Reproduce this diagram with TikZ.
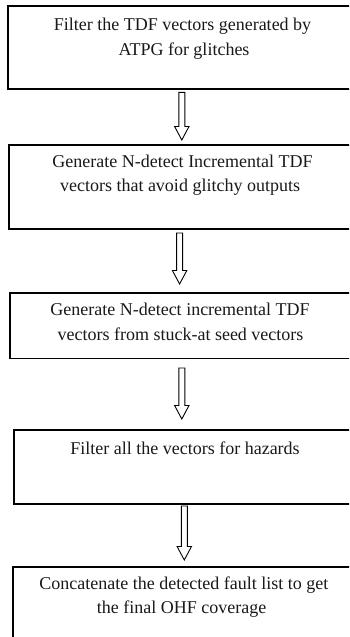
\documentclass[tikz,border=0pt]{standalone}
\usepackage{fontspec}
\setmainfont{Liberation Serif}
\usetikzlibrary{calc}

\tikzset{
  stepbox/.style={draw=black, line width=1.5pt, rectangle, inner sep=0pt, anchor=north west},
  lbl/.style={anchor=base, inner sep=0pt, font=\fontsize{18}{22}\selectfont, text=black!90},
  arrowline/.style={draw=black, line width=0.9pt, line join=miter, fill=white},
}

% hollow block arrow pointing down: #1 = top of the shaft, #2 = tip
\newcommand\hollowdown[2]{%
  \draw[arrowline]
    ($(#1)+(-3,0)$) -- ($(#2)+(-3,-13.5)$) -- ($(#2)+(-7.2,-13.5)$) -- (#2)
    -- ($(#2)+(7.2,-13.5)$) -- ($(#2)+(3,-13.5)$) -- ($(#1)+(3,0)$) -- cycle;}

\begin{document}
\begin{tikzpicture}[x=1pt, y=-1pt]
  \useasboundingbox (0,0) rectangle (349,637);
  \clip (0,0) rectangle (349,637);

  % process steps
  \node[stepbox, minimum width=350pt, minimum height=83pt] (b1) at (7,5) {};
  \node[lbl] (t1a) at (182.5,30) {Filter the TDF vectors generated by};
  \node[lbl] (t1b) at (184,55.7) {ATPG for glitches};

  \node[stepbox, minimum width=349pt, minimum height=84pt] (b2) at (8,144) {};
  \node[lbl] (t2a) at (182.5,167) {Generate N-detect Incremental TDF};
  \node[lbl] (t2b) at (180,191.5) {vectors that avoid glitchy outputs};

  \node[stepbox, minimum width=348pt, minimum height=65.5pt] (b3) at (9.3,292.3) {};
  \node[lbl] (t3a) at (180,315.7) {Generate N-detect incremental TDF};
  \node[lbl] (t3b) at (180.5,340) {vectors from stuck-at seed vectors};

  \node[stepbox, minimum width=344pt, minimum height=74.3pt] (b4) at (13.3,429) {};
  \node[lbl] (t4a) at (185,454) {Filter all the vectors for hazards};

  \node[stepbox, minimum width=345pt, minimum height=100pt] (b5) at (12,566) {};
  \node[lbl] (t5a) at (183.8,589) {Concatenate the detected fault list to get};
  \node[lbl] (t5b) at (181.7,613.3) {the final OHF coverage};

  % arrows between the steps
  \coordinate (a1s) at (181.8,92.3);  \coordinate (a1e) at (181.8,140);
  \coordinate (a2s) at (179.6,233);   \coordinate (a2e) at (179.6,284);
  \coordinate (a3s) at (181.8,368);   \coordinate (a3e) at (181.8,419);
  \coordinate (a4s) at (184.3,506);   \coordinate (a4e) at (184.3,560);
  \hollowdown{a1s}{a1e}
  \hollowdown{a2s}{a2e}
  \hollowdown{a3s}{a3e}
  \hollowdown{a4s}{a4e}
\end{tikzpicture}
\end{document}
